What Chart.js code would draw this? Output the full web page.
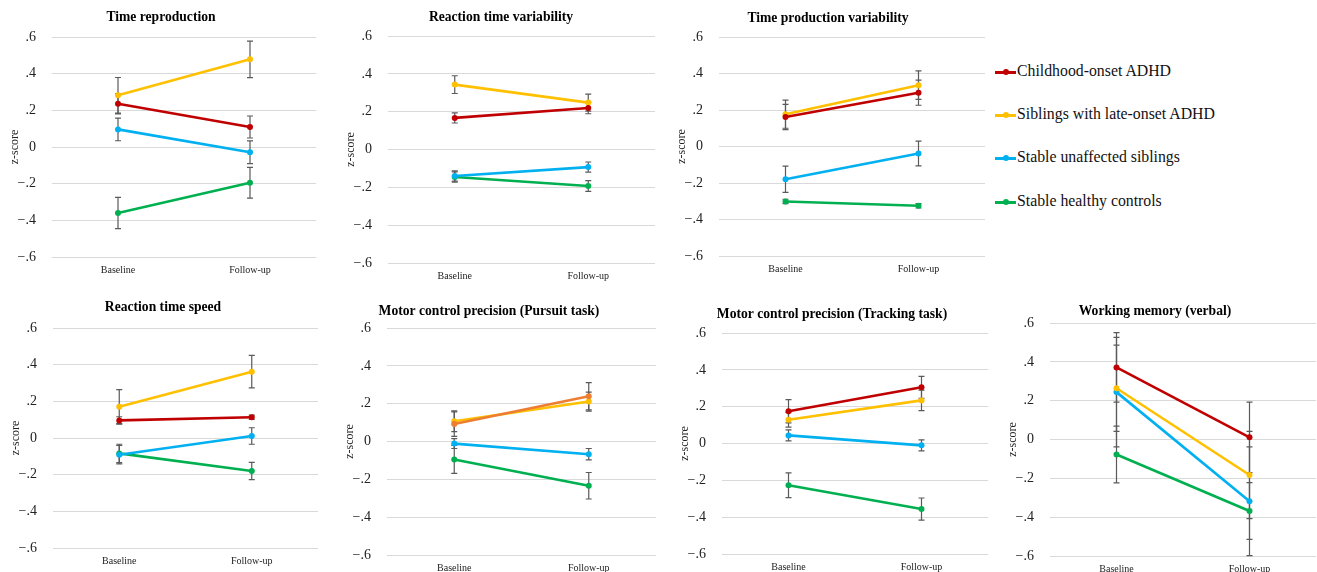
<!DOCTYPE html>
<html>
<head>
<meta charset="utf-8">
<script src="https://cdn.jsdelivr.net/npm/chart.js@4.4.1/dist/chart.umd.min.js"></script>
<style>
  body { margin: 0; background: #fff; overflow: hidden; }
  #wrap { position: relative; width: 1317px; height: 572px; overflow: hidden; }
  #wrap canvas { position: absolute; }
  .leg { position: absolute; left: 995px; height: 20px; line-height: 20px; font: 15.8px "Liberation Serif", serif; color: #111; white-space: nowrap; }
  .mk { display: inline-block; position: relative; width: 21px; height: 3px; vertical-align: middle; margin-right: 1px; }
  .mk i { position: absolute; left: 8px; top: -1.5px; width: 6px; height: 6px; border-radius: 50%; }
</style>
</head>
<body>
<div id="wrap"></div>
<script>
// groups and time points
const groups = ['Childhood-onset ADHD', 'Siblings with late-onset ADHD', 'Stable unaffected siblings', 'Stable healthy controls'];
const timepoints = ['Baseline', 'Follow-up'];
const yTickLabels = ['\u2212.6', '\u2212.4', '\u2212.2', '0', '.2', '.4', '.6'];

// means [baseline, follow-up] per group, and the error bar half-lengths
const timeReproMean = [[0.236, 0.109], [0.282, 0.478], [0.096, -0.029], [-0.36, -0.195]];
const timeReproErr = [[0.055, 0.06], [0.097, 0.1], [0.062, 0.062], [0.085, 0.084]];

const rtVarMean = [[0.167, 0.219], [0.343, 0.248], [-0.14, -0.093], [-0.145, -0.193]];
const rtVarErr = [[0.027, 0.03], [0.047, 0.045], [0.027, 0.027], [0.027, 0.028]];

const tpVarMean = [[0.162, 0.295], [0.177, 0.336], [-0.179, -0.038], [-0.301, -0.325]];
const tpVarErr = [[0.069, 0.069], [0.077, 0.078], [0.072, 0.068], [0.012, 0.012]];

const rtSpeedMean = [[0.096, 0.113], [0.171, 0.362], [-0.091, 0.011], [-0.084, -0.18]];
const rtSpeedErr = [[0.02, 0.012], [0.093, 0.089], [0.05, 0.045], [0.05, 0.047]];

const pursuitMean = [[0.092, 0.239], [0.107, 0.211], [-0.011, -0.067], [-0.095, -0.234]];
const pursuitErr = [[0.065, 0.072], [0.055, 0.05], [0.026, 0.03], [0.074, 0.07]];

const trackingMean = [[0.175, 0.305], [0.129, 0.234], [0.044, -0.01], [-0.227, -0.356]];
const trackingErr = [[0.063, 0.06], [0.04, 0.056], [0.03, 0.03], [0.067, 0.06]];

const wmMean = [[0.371, 0.011], [0.264, -0.183], [0.244, -0.318], [-0.077, -0.368]];
const wmErr = [[0.179, 0.181], [0.222, 0.225], [0.282, 0.28], [0.146, 0.146]];

const groupColors = ['#C00000', '#FFC000', '#00B0F0', '#00B050'];
const serif = '"Liberation Serif", "Times New Roman", serif';

// gridLeft, gridRight, top, bottom of the plot area and title centre (page px)
const panels = [
  { title: 'Time reproduction', mean: timeReproMean, err: timeReproErr, area: [52, 316, 37, 257], t: [161, 17] },
  { title: 'Reaction time variability', mean: rtVarMean, err: rtVarErr, area: [388, 655, 36, 263], t: [501, 17] },
  { title: 'Time production variability', mean: tpVarMean, err: tpVarErr, area: [719, 985, 37, 256], t: [828, 18] },
  { title: 'Reaction time speed', mean: rtSpeedMean, err: rtSpeedErr, area: [53, 318, 328, 548], t: [163, 307] },
  { title: 'Motor control precision (Pursuit task)', mean: pursuitMean, err: pursuitErr, area: [387, 656, 328, 555], t: [489, 311], first: '#ED7D31' },
  { title: 'Motor control precision (Tracking task)', mean: trackingMean, err: trackingErr, area: [722, 988, 333, 554], t: [832, 314] },
  { title: 'Working memory (verbal)', mean: wmMean, err: wmErr, area: [1050, 1316, 323, 556], t: [1155, 311] }
];

const errorBars = {
  id: 'errorBars',
  beforeDatasetsDraw(chart) {
    const { ctx, scales: { x, y } } = chart;
    ctx.save();
    ctx.strokeStyle = '#5a5a5a';
    ctx.lineWidth = 1.2;
    chart.data.datasets.forEach(ds => {
      ds.data.forEach((v, i) => {
        const e = ds.errors[i];
        const px = x.getPixelForValue(i);
        const top = y.getPixelForValue(v + e), bot = y.getPixelForValue(v - e);
        ctx.beginPath();
        ctx.moveTo(px, top); ctx.lineTo(px, bot);
        ctx.moveTo(px - 3, top); ctx.lineTo(px + 3, top);
        ctx.moveTo(px - 3, bot); ctx.lineTo(px + 3, bot);
        ctx.stroke();
      });
    });
    ctx.restore();
  }
};

const panelTitle = {
  id: 'panelTitle',
  afterDraw(chart, args, opts) {
    const ctx = chart.ctx;
    ctx.save();
    ctx.font = 'bold 13.6px ' + serif;
    ctx.fillStyle = '#000';
    ctx.textAlign = 'center';
    ctx.textBaseline = 'middle';
    ctx.fillText(opts.text, opts.x, opts.y);
    ctx.restore();
  }
};

const wrap = document.getElementById('wrap');

panels.forEach(p => {
  const [gl, gr, gt, gb] = p.area;
  const left = gl - 52, top = gt - 40;
  const w = gr + 8 - left, h = gb + 32 - top;
  const canvas = document.createElement('canvas');
  canvas.width = w; canvas.height = h;
  canvas.style.left = left + 'px';
  canvas.style.top = top + 'px';
  wrap.appendChild(canvas);

  const datasets = groups.map((g, i) => {
    const c = (i === 0 && p.first) ? p.first : groupColors[i];
    return {
      label: g,
      data: p.mean[i],
      errors: p.err[i],
      borderColor: c,
      backgroundColor: c,
      pointBackgroundColor: c,
      pointBorderWidth: 0,
      pointRadius: 3,
      borderWidth: 2.6,
      tension: 0,
      clip: false
    };
  });

  new Chart(canvas, {
    type: 'line',
    data: { labels: timepoints, datasets },
    plugins: [errorBars, panelTitle],
    options: {
      responsive: false,
      animation: false,
      events: [],
      layout: { padding: { top: 40, right: 8, left: 0, bottom: 0 } },
      plugins: {
        legend: { display: false },
        tooltip: { enabled: false },
        panelTitle: { text: p.title, x: p.t[0] - left, y: p.t[1] - top }
      },
      scales: {
        x: {
          offset: true,
          grid: { display: false, drawTicks: false },
          border: { display: false },
          ticks: { padding: 7, color: '#222', font: { family: serif, size: 10 } },
          afterFit: s => { s.height = 32; }
        },
        y: {
          min: -0.6,
          max: 0.6,
          grid: { color: '#d9d9d9', lineWidth: 1, drawTicks: false },
          border: { display: false },
          ticks: {
            stepSize: 0.2,
            padding: 16,
            color: '#222',
            font: { family: serif, size: 14 },
            callback: (v, i) => yTickLabels[i]
          },
          title: { display: true, text: 'z-score', color: '#222', font: { family: serif, size: 12 }, padding: { top: 7.5, bottom: 0 } },
          afterFit: s => { s.width = 52; }
        }
      }
    }
  });
});

// legend
const legendY = [72, 115, 158, 202];
groups.forEach((g, i) => {
  const item = document.createElement('div');
  item.className = 'leg';
  item.style.top = (legendY[i] - 10) + 'px';
  item.innerHTML = `<span class="mk" style="background:${groupColors[i]}"><i style="background:${groupColors[i]}"></i></span>${g}`;
  wrap.appendChild(item);
});
</script>
</body>
</html>
